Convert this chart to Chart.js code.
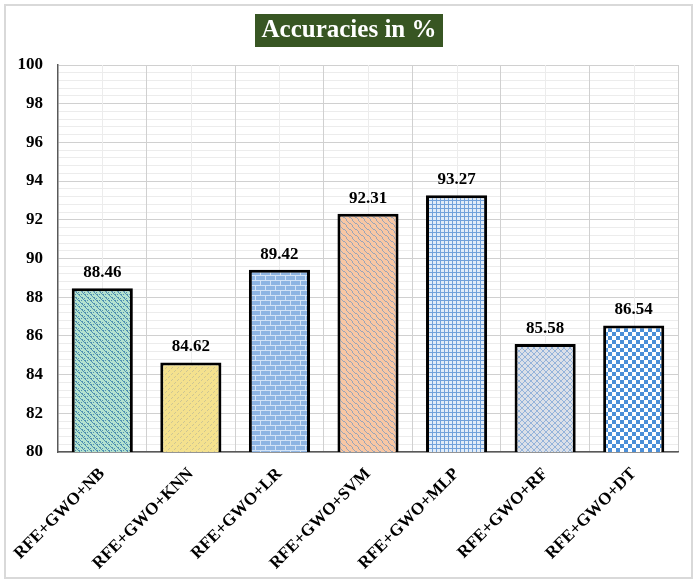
<!DOCTYPE html>
<html>
<head>
<meta charset="utf-8">
<script src="https://cdn.jsdelivr.net/npm/chart.js@4.4.0/dist/chart.umd.min.js"></script>
<style>
  html, body { margin: 0; padding: 0; background: #fff; }
  canvas { display: block; }
</style>
</head>
<body>
<canvas id="accChart" width="700" height="586"></canvas>
<script>
// data
var models = ["RFE+GWO+NB", "RFE+GWO+KNN", "RFE+GWO+LR", "RFE+GWO+SVM", "RFE+GWO+MLP", "RFE+GWO+RF", "RFE+GWO+DT"];
var accuracies = [88.46, 84.62, 89.42, 92.31, 93.27, 85.58, 86.54];
var yMin = 80, yMax = 100, yMajorStep = 2, yMinorStep = 0.4;
var chartTitle = "Accuracies in %";

var serif = '"Liberation Serif", "Times New Roman", serif';
var canvas = document.getElementById("accChart");
var ctx = canvas.getContext("2d");

// little tiles for the bar fills
function tile(size, bg, draw) {
  var c = document.createElement("canvas");
  c.width = size; c.height = size;
  var g = c.getContext("2d");
  g.fillStyle = bg;
  g.fillRect(0, 0, size, size);
  draw(g, size);
  return ctx.createPattern(c, "repeat");
}

var fills = [
  // NB - teal squiggles
  tile(6, "#b3e2d0", function (g) {
    g.fillStyle = "#4f8fb0";
    g.fillRect(0, 0, 2, 1); g.fillRect(1, 1, 1, 1); g.fillRect(2, 2, 1, 1);
    g.fillRect(3, 3, 2, 1); g.fillRect(4, 4, 1, 1); g.fillRect(5, 5, 1, 1);
    g.fillRect(0, 4, 1, 1); g.fillRect(3, 0, 1, 1);
  }),
  // KNN - yellow, faint dashes
  tile(6, "#f4e18e", function (g) {
    g.fillStyle = "#cdc594";
    g.fillRect(0, 5, 1, 1); g.fillRect(1, 4, 1, 1);
    g.fillRect(3, 2, 1, 1); g.fillRect(4, 1, 1, 1);
  }),
  // LR - bricks
  tile(10, "#8eb5e3", function (g) {
    g.fillStyle = "#d3e3f6";
    g.fillRect(0, 0, 10, 1); g.fillRect(0, 5, 10, 1);
    g.fillRect(0, 1, 1, 4); g.fillRect(5, 6, 1, 4);
  }),
  // SVM - peach with grey waves
  tile(6, "#f8c7a4", function (g) {
    g.fillStyle = "#9aa5b8";
    g.fillRect(0, 0, 1, 1); g.fillRect(1, 1, 1, 1); g.fillRect(2, 1, 1, 1);
    g.fillRect(3, 2, 1, 1); g.fillRect(4, 3, 1, 1); g.fillRect(4, 4, 1, 1);
    g.fillRect(5, 5, 1, 1);
  }),
  // MLP - fine blue grid
  tile(4, "#e1ecf8", function (g) {
    g.fillStyle = "#71a1da";
    g.fillRect(0, 0, 4, 1); g.fillRect(0, 0, 1, 4);
  }),
  // RF - crosshatch
  tile(6, "#dbe0e8", function (g) {
    g.fillStyle = "#94b3da";
    for (var i = 0; i < 6; i++) { g.fillRect(i, i, 1, 1); g.fillRect(5 - i, i, 1, 1); }
  }),
  // DT - checker
  tile(8, "#ffffff", function (g) {
    g.fillStyle = "#4a8fd8";
    g.fillRect(0, 0, 4, 4); g.fillRect(4, 4, 4, 4);
  })
];

function isMajor(v) {
  var q = (v - yMin) / yMajorStep;
  return Math.abs(q - Math.round(q)) < 1e-6;
}

var decor = {
  id: "decor",
  beforeDraw: function (chart) {
    var c = chart.ctx;
    c.save();
    c.fillStyle = "#fff";
    c.fillRect(0, 0, chart.width, chart.height);
    c.strokeStyle = "#d9d9d9";
    c.lineWidth = 2;
    c.strokeRect(5, 5, 687, 573);
    c.restore();
  },
  beforeDatasetsDraw: function (chart) {
    // light lines at the category centres
    var c = chart.ctx, x = chart.scales.x, a = chart.chartArea;
    c.save();
    c.strokeStyle = "#ececec";
    c.lineWidth = 1;
    for (var i = 0; i < models.length; i++) {
      var px = Math.round(x.getPixelForValue(i)) + 0.5;
      c.beginPath(); c.moveTo(px, a.top); c.lineTo(px, a.bottom); c.stroke();
    }
    c.restore();
  },
  afterDatasetsDraw: function (chart) {
    var c = chart.ctx;
    var bars = chart.getDatasetMeta(0).data;
    c.save();
    c.fillStyle = "#000";
    c.font = "bold 17px " + serif;
    c.textAlign = "center";
    c.textBaseline = "bottom";
    bars.forEach(function (b, i) {
      c.fillText(accuracies[i].toFixed(2), b.x, b.y - 7);
    });
    // title box
    c.fillStyle = "#385623";
    c.fillRect(255, 14, 188, 33);
    c.fillStyle = "#fff";
    c.font = "bold 25px " + serif;
    c.textBaseline = "middle";
    c.fillText(chartTitle, 349, 31);
    c.restore();
  }
};

new Chart(canvas, {
  type: "bar",
  data: {
    labels: models,
    datasets: [{
      label: "Accuracy",
      data: accuracies,
      backgroundColor: fills,
      borderColor: "#000",
      borderWidth: 3,
      borderSkipped: false,
      barPercentage: 0.69,
      categoryPercentage: 1
    }]
  },
  options: {
    responsive: false,
    animation: false,
    layout: { padding: { top: 65, right: 22, left: 0, bottom: 0 } },
    plugins: {
      legend: { display: false },
      title: { display: false },
      tooltip: { enabled: false }
    },
    scales: {
      y: {
        min: yMin,
        max: yMax,
        afterFit: function (s) { s.width = 58; },
        ticks: {
          stepSize: yMinorStep,
          autoSkip: false,
          padding: 15,
          color: "#000",
          font: { family: serif, size: 17, weight: "bold" },
          callback: function (v) { return isMajor(v) ? Math.round(v) : ""; }
        },
        grid: {
          drawTicks: false,
          color: function (c) { return isMajor(c.tick.value) ? "#d0d0d0" : "#ececec"; }
        },
        border: { color: "#595959", width: 1.5 }
      },
      x: {
        afterFit: function (s) { s.height = 134; },
        ticks: {
          minRotation: 45,
          maxRotation: 45,
          autoSkip: false,
          padding: 12,
          color: "#000",
          font: { family: serif, size: 17, weight: "bold" }
        },
        grid: { drawTicks: false, color: "#d0d0d0" },
        border: { color: "#595959", width: 1.5 }
      }
    }
  },
  plugins: [decor]
});
</script>
</body>
</html>
